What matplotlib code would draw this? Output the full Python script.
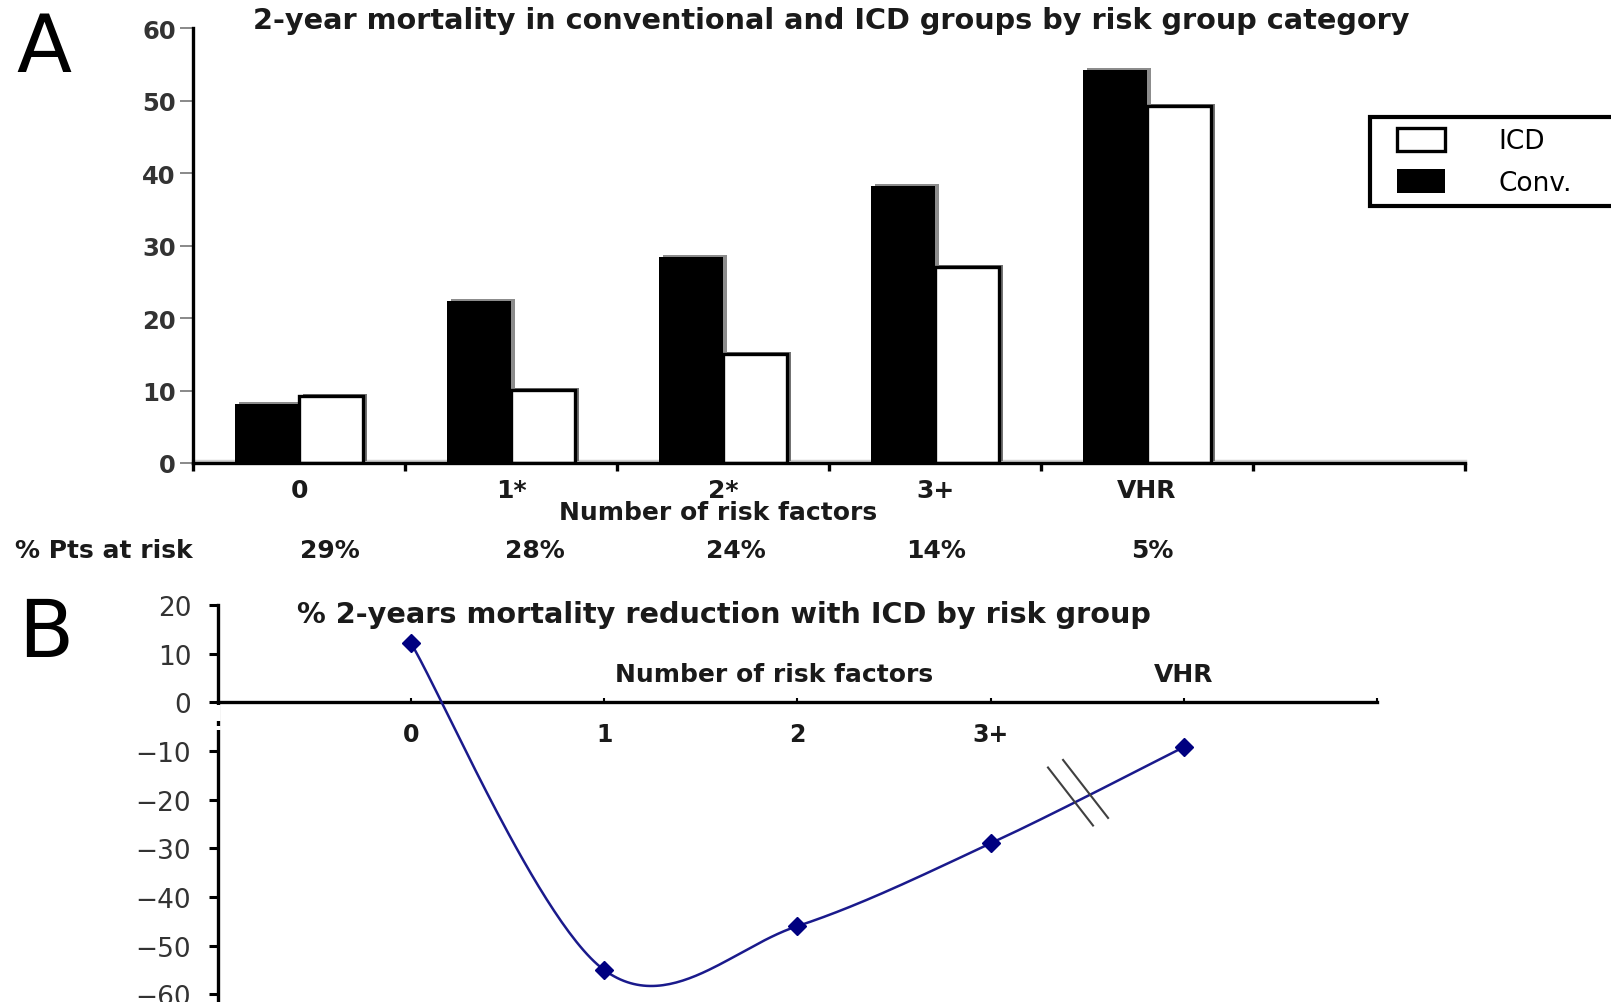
import numpy as np
import matplotlib
matplotlib.use("Agg")
import matplotlib.pyplot as plt
from matplotlib.transforms import offset_copy
from matplotlib.patches import Rectangle
from matplotlib.legend_handler import HandlerPatch

plt.rcParams['font.family'] = ['DejaVu Sans']

# ---- Panel A: 2-year mortality by risk group ----
categories = ['0', '1*', '2*', '3+', 'VHR']
conv_mortality = [8.2, 22.4, 28.5, 38.3, 54.3]
icd_mortality = [9.2, 10.1, 15.1, 27.1, 49.3]
pts_at_risk = ['29%', '28%', '24%', '14%', '5%']
a_yticks = [0, 10, 20, 30, 40, 50, 60]

# ---- Panel B: % mortality reduction with ICD ----
b_positions = [0, 1, 2, 3, 4]
b_xticklabels = ['0', '1', '2', '3+']
mortality_reduction = [12.2, -55.0, -46.0, -29.0, -9.2]
b_yticks = [20, 10, 0, -10, -20, -30, -40, -50, -60]

W, H = 1611, 1003
fig = plt.figure(figsize=(W / 100, H / 100), dpi=100)


def fx(px):
    return px / W


def fy(py):
    return 1 - py / H


def smooth(xs, ys, n=60):
    """Bezier smoothing through every point (Catmull-Rom control points)."""
    P = np.column_stack([xs, ys]).astype(float)
    ext = np.vstack([P[0], P, P[-1]])
    t = np.linspace(0, 1, n)[:, None]
    out = []
    for i in range(len(P) - 1):
        p0, p1, p2, p3 = ext[i], ext[i + 1], ext[i + 2], ext[i + 3]
        c1 = p1 + (p2 - p0) / 6
        c2 = p2 - (p3 - p1) / 6
        seg = ((1 - t) ** 3) * p1 + 3 * ((1 - t) ** 2) * t * c1 \
            + 3 * (1 - t) * t ** 2 * c2 + t ** 3 * p2
        out.append(seg if i == 0 else seg[1:])
    return np.vstack(out)


# ================= Panel A =================
axA = fig.add_axes([fx(193), fy(464), fx(1465) - fx(193), fy(29.3) - fy(464)])
x = np.arange(len(categories))
bw = 0.30

shadow_tr = offset_copy(axA.transData, fig=fig, x=4, y=2, units='dots')
axA.bar(x - bw / 2, conv_mortality, bw, color='0.55', lw=0, zorder=2,
        transform=shadow_tr)
axA.bar(x + bw / 2, icd_mortality, bw, color='0.45', lw=0, zorder=2,
        transform=shadow_tr)
conv_bars = axA.bar(x - bw / 2, conv_mortality, bw, color='black', lw=0, zorder=3)
icd_bars = axA.bar(x + bw / 2, icd_mortality, bw, color='white',
                   edgecolor='black', lw=2.4, zorder=4)

# light floor line just above the baseline
floor_tr = offset_copy(axA.transData, fig=fig, x=0, y=2.5, units='dots')
axA.plot([-0.5, 5.5], [0, 0], color='0.82', lw=2.5, transform=floor_tr,
         zorder=1.5, clip_on=False)

axA.set_xlim(-0.5, 5.5)
axA.set_ylim(0, 60)
for s in ['top', 'right']:
    axA.spines[s].set_visible(False)
for s in ['left', 'bottom']:
    axA.spines[s].set_linewidth(2.4)
    axA.spines[s].set_zorder(5)

axA.set_yticks(a_yticks)
axA.tick_params(axis='y', direction='out', length=9.5, width=1.3, color='0.5',
                pad=3, labelsize=17.5, labelcolor='0.2')
for lbl in axA.get_yticklabels():
    lbl.set_fontweight('bold')

axA.set_xticks(np.arange(-0.5, 6.0, 1.0))
axA.tick_params(axis='x', which='major', direction='out', length=6, width=2.4,
                labelbottom=False)
axA.set_xticks(x, minor=True)
axA.set_xticklabels(categories, minor=True, fontweight='bold', color='0.1')
axA.tick_params(axis='x', which='minor', length=0, pad=11, labelsize=18)
axA.set_xlabel('Number of risk factors', fontsize=18, fontweight='bold',
               color='0.1', va='baseline')
axA.xaxis.set_label_coords((718 - 193) / 1272, -(520 - 464) / 434.7)

# patients-at-risk row
fig.text(fx(15), fy(558), '% Pts at risk', fontsize=18, fontweight='bold',
         color='0.1', ha='left', va='baseline')
pct_x = [330, 535, 736, 936, 1152]
for px, lab in zip(pct_x, pts_at_risk):
    fig.text(fx(px), fy(558), lab, fontsize=18, fontweight='bold', color='0.1',
             ha='center', va='baseline')

fig.text(fx(253), fy(29), '2-year mortality in conventional and ICD groups by '
         'risk group category', fontsize=20.7, fontweight='bold', color='0.1',
         ha='left', va='baseline')
fig.text(fx(16), fy(72), 'A', fontsize=58, ha='left', va='baseline')


def legend_box(legend, orig_handle, xdescent, ydescent, width, height, fontsize):
    inset = 11.8
    return Rectangle((inset - xdescent, -ydescent), width - inset, height)


leg = fig.legend([icd_bars[0], conv_bars[0]], ['ICD', 'Conv.'], loc='upper left',
                 bbox_to_anchor=(fx(1370), fy(206), fx(1720) - fx(1370),
                                 fy(118) - fy(206)),
                 mode='expand', borderaxespad=0, frameon=True, fancybox=False,
                 edgecolor='black', framealpha=1, fontsize=19,
                 handlelength=2.46, handleheight=1.0, handletextpad=2.0,
                 borderpad=0.4, labelspacing=0.55,
                 handler_map={Rectangle: HandlerPatch(patch_func=legend_box)})
leg.get_frame().set_linewidth(3)

# ================= Panel B =================
axB = fig.add_axes([fx(217.7), fy(1005), fx(1377) - fx(217.7), fy(606) - fy(1005)])
axB.set_xlim(-1, 5)
axB.set_ylim(-62, 20)
for s in ['top', 'right']:
    axB.spines[s].set_visible(False)
axB.spines['bottom'].set_position(('data', 0))
for s in ['left', 'bottom']:
    axB.spines[s].set_linewidth(2.4)

axB.set_yticks(b_yticks)
axB.tick_params(axis='y', direction='out', length=6.5, width=2.2, pad=12.5,
                labelsize=19, labelcolor='0.2')
axB.set_xticks(range(6))
axB.set_xticklabels(b_xticklabels + ['', ''], fontweight='bold', color='0.1')
axB.tick_params(axis='x', direction='in', length=3, width=1.5, pad=14,
                labelsize=17)

curve = smooth(b_positions, mortality_reduction)
axB.plot(curve[:, 0], curve[:, 1], color='#1a1a8c', lw=1.8, zorder=3)
axB.plot(b_positions, mortality_reduction, ls='none', marker='D',
         markersize=9, color='#000080', zorder=4)

# break marks on the segment toward VHR
ppx = 193.2   # px per x unit
ppy = 4.866   # px per y unit
for xb in (3.437, 3.515):
    yb = np.interp(xb, curve[:, 0], curve[:, 1])
    dx, dy = 45 / ppx, 58 / ppy
    axB.plot([xb - 0.6 * dx, xb + 0.4 * dx], [yb + 0.6 * dy, yb - 0.4 * dy],
             color='0.25', lw=1.5, zorder=5)

# small gaps in the vertical axis just below zero
for y0, y1 in ((-0.6, -3.8), (-4.9, -5.7)):
    axB.plot([-1, -1], [y0, y1], color='white', lw=4, zorder=6,
             clip_on=False, solid_capstyle='butt')

axB.text(1.88, 4.3, 'Number of risk factors', fontsize=18, fontweight='bold',
         color='0.1', ha='center', va='baseline')
axB.text(4.0, 4.3, 'VHR', fontsize=18, fontweight='bold', color='0.1',
         ha='center', va='baseline')

fig.text(fx(297), fy(623), '% 2-years mortality reduction with ICD by risk group',
         fontsize=20.7, fontweight='bold', color='0.1', ha='left', va='baseline')
fig.text(fx(18), fy(657), 'B', fontsize=58, ha='left', va='baseline')

fig.savefig('out.png', dpi=100)
